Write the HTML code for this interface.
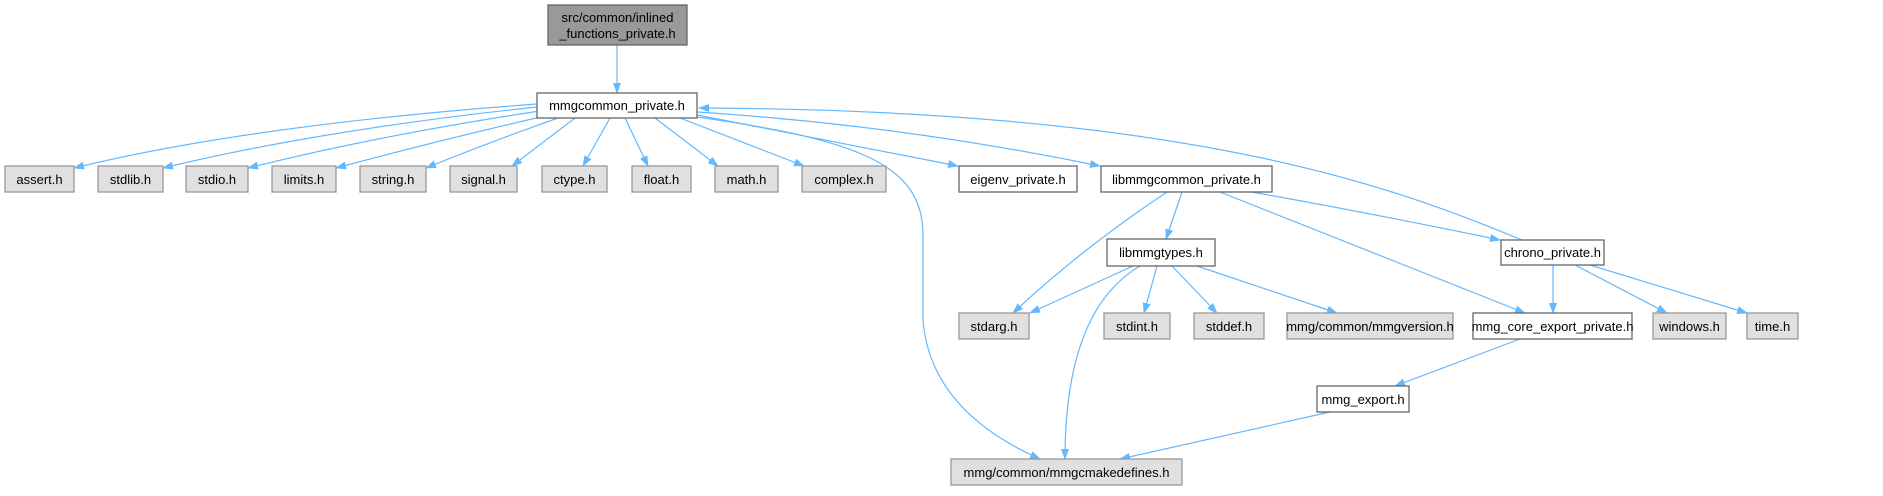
<!DOCTYPE html>
<html><head><meta charset="utf-8"><style>
html,body{margin:0;padding:0;background:#fff;}
svg text{font-family:"Liberation Sans",Arial,sans-serif;font-size:13px;fill:#000;}
</style></head><body>
<svg width="1883" height="491" viewBox="0 0 1883 491" xmlns="http://www.w3.org/2000/svg">
<defs>
<marker id="a" markerWidth="11" markerHeight="8" refX="10" refY="4" orient="auto" markerUnits="userSpaceOnUse">
<path d="M0,0 L11,4 L0,8 Z" fill="#63b8ff"/>
</marker>
</defs>
<g fill="none" stroke="#63b8ff" stroke-width="1.2" marker-end="url(#a)">
<path d="M617,45 L617,93"/>
<path d="M537,104 Q250,125 74,168"/>
<path d="M537,107 Q320,130 163,168"/>
<path d="M540,111 Q380,135 248,168"/>
<path d="M545,116 Q440,140 336,168"/>
<path d="M558,118 Q490,142 426,168"/>
<path d="M575,118 L512,166"/>
<path d="M610,118 L583,166"/>
<path d="M625,118 L648,166"/>
<path d="M655,118 L718,166"/>
<path d="M680,118 L804,166"/>
<path d="M697,115 L958,166"/>
<path d="M697,112 Q900,125 1100,166"/>
<path d="M697,117 C860,140 923,165 923,235 L923,320 Q930,410 1040,459"/>
<path d="M1522,240 C1400,190 1200,110 699,108"/>
<path d="M1167,192 Q1080,250 1013,313"/>
<path d="M1182,192 L1166,239"/>
<path d="M1220,192 Q1380,255 1525,313"/>
<path d="M1252,192 Q1380,215 1500,240"/>
<path d="M1133,266 L1030,313"/>
<path d="M1140,266 Q1065,310 1065,459"/>
<path d="M1157,266 L1144,313"/>
<path d="M1172,266 L1217,313"/>
<path d="M1197,266 L1337,313"/>
<path d="M1553,265 L1553,313"/>
<path d="M1575,265 L1667,313"/>
<path d="M1590,265 L1747,313"/>
<path d="M1520,339 L1395,386"/>
<path d="M1330,412 L1120,459"/>
</g>
<g stroke-width="1.3">
<rect x="548" y="5" width="139" height="40" fill="#999" stroke="#666"/>
<rect x="537" y="93" width="160" height="25" fill="#fff" stroke="#666"/>
<g fill="#e0e0e0" stroke="#999">
<rect x="5" y="166" width="69" height="26"/>
<rect x="98" y="166" width="65" height="26"/>
<rect x="186" y="166" width="62" height="26"/>
<rect x="272" y="166" width="64" height="26"/>
<rect x="360" y="166" width="66" height="26"/>
<rect x="450" y="166" width="67" height="26"/>
<rect x="542" y="166" width="65" height="26"/>
<rect x="632" y="166" width="59" height="26"/>
<rect x="715" y="166" width="63" height="26"/>
<rect x="802" y="166" width="84" height="26"/>
<rect x="959" y="313" width="70" height="26"/>
<rect x="1104" y="313" width="66" height="26"/>
<rect x="1194" y="313" width="70" height="26"/>
<rect x="1287" y="313" width="166" height="26"/>
<rect x="1653" y="313" width="73" height="26"/>
<rect x="1747" y="313" width="51" height="26"/>
<rect x="951" y="459" width="231" height="26"/>
</g>
<g fill="#fff" stroke="#666">
<rect x="959" y="166" width="118" height="26"/>
<rect x="1101" y="166" width="171" height="26"/>
<rect x="1107" y="239" width="108" height="27"/>
<rect x="1501" y="240" width="103" height="25"/>
<rect x="1473" y="313" width="159" height="26"/>
<rect x="1317" y="386" width="92" height="26"/>
</g>
</g>
<g text-anchor="middle">
<text x="617.5" y="22">src/common/inlined</text>
<text x="617.5" y="38">_functions_private.h</text>
<text x="617" y="110">mmgcommon_private.h</text>
<text x="39.5" y="184">assert.h</text>
<text x="130.5" y="184">stdlib.h</text>
<text x="217" y="184">stdio.h</text>
<text x="304" y="184">limits.h</text>
<text x="393" y="184">string.h</text>
<text x="483.5" y="184">signal.h</text>
<text x="574.5" y="184">ctype.h</text>
<text x="661.5" y="184">float.h</text>
<text x="746.5" y="184">math.h</text>
<text x="844" y="184">complex.h</text>
<text x="1018" y="184">eigenv_private.h</text>
<text x="1186.5" y="184">libmmgcommon_private.h</text>
<text x="1161" y="257">libmmgtypes.h</text>
<text x="1552.5" y="257">chrono_private.h</text>
<text x="994" y="331">stdarg.h</text>
<text x="1137" y="331">stdint.h</text>
<text x="1229" y="331">stddef.h</text>
<text x="1370" y="331">mmg/common/mmgversion.h</text>
<text x="1552.5" y="331">mmg_core_export_private.h</text>
<text x="1689.5" y="331">windows.h</text>
<text x="1772.5" y="331">time.h</text>
<text x="1363" y="404">mmg_export.h</text>
<text x="1066.5" y="477">mmg/common/mmgcmakedefines.h</text>
</g>
</svg>
</body></html>
